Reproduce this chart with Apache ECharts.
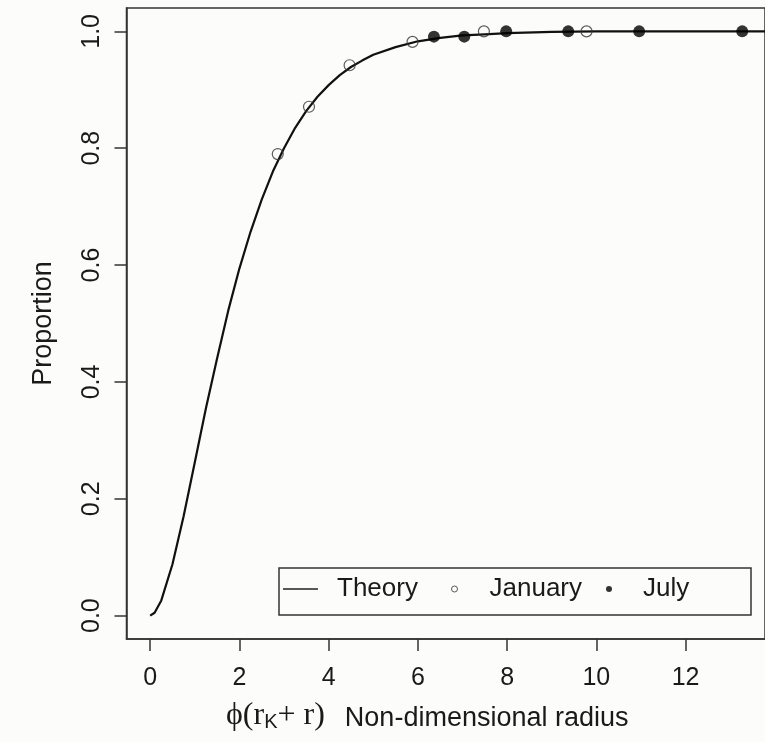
<!DOCTYPE html>
<html>
<head>
<meta charset="utf-8">
<script src="https://cdn.jsdelivr.net/npm/echarts@6/dist/echarts.min.js"></script>
<style>
html,body{margin:0;padding:0;background:#fcfcfa;}
#chart{width:765px;height:742px;}
</style>
</head>
<body>
<div id="chart"></div>
<script>
// ---- data ----
var xTicks = [0, 2, 4, 6, 8, 10, 12];
var yTicks = [0, 0.2, 0.4, 0.6, 0.8, 1.0];
var theoryX = [0, 0.1, 0.25, 0.5, 0.75, 1.0, 1.25, 1.5, 1.75, 2.0, 2.25, 2.5, 2.75, 3.0, 3.25, 3.5, 3.75, 4.0, 4.25, 4.5, 4.75, 5.0, 5.5, 6.0, 6.5, 7.0, 7.5, 8.0, 9.0, 10, 11, 12, 13, 13.8];
var theoryY = [0, 0.005, 0.026, 0.088, 0.17, 0.262, 0.355, 0.44, 0.522, 0.594, 0.657, 0.712, 0.76, 0.80, 0.835, 0.864, 0.888, 0.908, 0.925, 0.939, 0.95, 0.96, 0.973, 0.983, 0.989, 0.993, 0.995, 0.997, 0.999, 1.0, 1.0, 1.0, 1.0, 1.0];
var janX = [2.86, 3.56, 4.47, 5.88, 7.48, 9.78];
var janY = [0.79, 0.871, 0.942, 0.982, 1.0, 1.0];
var julX = [6.36, 7.04, 7.98, 9.37, 10.96, 13.27];
var julY = [0.991, 0.991, 1.0, 1.0, 1.0, 1.0];
var legendNames = ['Theory', 'January', 'July'];

function zip(a, b) { return a.map(function (v, i) { return [v, b[i]]; }); }

var chart = echarts.init(document.getElementById('chart'), null, {renderer: 'canvas'});
var sans = '"Liberation Sans", Arial, Helvetica, sans-serif';
var serif = '"Liberation Serif", "DejaVu Serif", "Times New Roman", serif';
var ink = '#1a1a1a';
var axisCol = '#333';

chart.setOption({
  animation: false,
  backgroundColor: '#fcfcfa',
  grid: {
    left: 126.5, top: 8, right: -18, bottom: 103,
    show: true, borderColor: axisCol, borderWidth: 1.5, backgroundColor: 'transparent'
  },
  xAxis: {
    type: 'value', min: -0.53, max: 13.78,
    axisLine: {show: true, onZero: false, lineStyle: {color: axisCol, width: 1.5}},
    axisTick: {show: true, inside: false, length: 12, customValues: xTicks, lineStyle: {color: axisCol, width: 1.5}},
    axisLabel: {customValues: xTicks, margin: 27, color: ink, fontFamily: sans, fontSize: 25,
      formatter: function (v) { return String(v); }},
    splitLine: {show: false}
  },
  yAxis: {
    type: 'value', min: -0.04, max: 1.04,
    name: 'Proportion', nameLocation: 'middle', nameRotate: 90, nameGap: 69,
    nameTextStyle: {color: ink, fontFamily: sans, fontSize: 27},
    axisLine: {show: true, onZero: false, lineStyle: {color: axisCol, width: 1.5}},
    axisTick: {show: true, inside: false, length: 12, customValues: yTicks, lineStyle: {color: axisCol, width: 1.5}},
    axisLabel: {customValues: yTicks, rotate: 90, margin: 22, color: ink, fontFamily: sans, fontSize: 25,
      formatter: function (v) { return Number(v).toFixed(1); }},
    splitLine: {show: false}
  },
  legend: [
    {data: [legendNames[0]], left: 283, top: 576, padding: 0, itemWidth: 35, itemHeight: 1.5, icon: 'rect',
      itemStyle: {color: '#222', borderWidth: 0},
      textStyle: {color: ink, fontFamily: sans, fontSize: 26, padding: [0, 0, 0, 14]}},
    {data: [legendNames[1]], left: 451, top: 576, padding: 0, itemWidth: 6, itemHeight: 6, icon: 'circle',
      itemStyle: {color: 'rgba(0,0,0,0)', borderColor: '#333', borderWidth: 1},
      textStyle: {color: ink, fontFamily: sans, fontSize: 26, padding: [0, 0, 0, 27]}},
    {data: [legendNames[2]], left: 606, top: 576, padding: 0, itemWidth: 6, itemHeight: 6, icon: 'circle',
      itemStyle: {color: '#000'},
      textStyle: {color: ink, fontFamily: sans, fontSize: 26, padding: [0, 0, 0, 26]}}
  ],
  graphic: [
    {type: 'rect', shape: {x: 279, y: 568, width: 472, height: 47},
      style: {fill: 'none', stroke: axisCol, lineWidth: 1.5}, z: 10},
    {type: 'text', left: 226, top: 700, z: 10,
      style: {
        text: '{s|\u03D5(r}{k|K}{s|+ r)}{n|Non-dimensional radius}',
        rich: {
          s: {fontFamily: serif, fontSize: 32, fill: ink, verticalAlign: 'bottom', lineHeight: 36},
          k: {fontFamily: sans, fontSize: 20, fill: ink, verticalAlign: 'bottom', lineHeight: 29},
          n: {fontFamily: sans, fontSize: 27, fill: ink, verticalAlign: 'bottom', lineHeight: 35, padding: [0, 0, 0, 20]}
        }
      }}
  ],
  series: [
    {name: legendNames[0], type: 'line', data: zip(theoryX, theoryY), symbol: 'none',
      smooth: false, itemStyle: {color: '#222'}, lineStyle: {color: '#111', width: 2.2}, z: 2},
    {name: legendNames[1], type: 'scatter', data: zip(janX, janY), symbol: 'circle', symbolSize: 11,
      itemStyle: {color: 'rgba(0,0,0,0)', borderColor: '#333', borderWidth: 1.2}, z: 3},
    {name: legendNames[2], type: 'scatter', data: zip(julX, julY), symbol: 'circle', symbolSize: 12,
      itemStyle: {color: '#000'}, z: 4}
  ]
});
</script>
</body>
</html>
